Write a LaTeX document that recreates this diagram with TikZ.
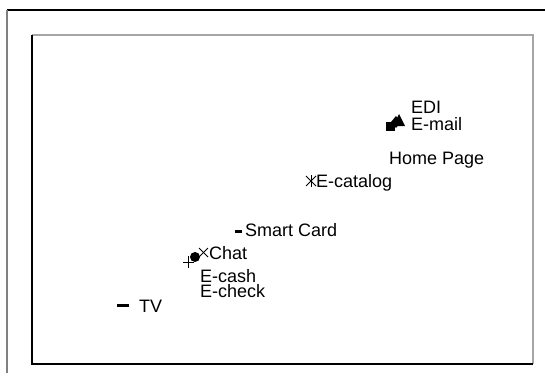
\documentclass[tikz,border=0pt]{standalone}
\usepackage{fontspec}
\setmainfont{Liberation Sans}
\usetikzlibrary{positioning}

\tikzset{
    lbl/.style={anchor=base west, inner sep=0pt, font=\fontsize{18}{18}\selectfont},
    dashmark/.style={line width=3pt},
    thinmark/.style={line width=1pt}
}

\begin{document}
\begin{tikzpicture}[x=1pt,y=-1pt]
\useasboundingbox (0,0) rectangle (545,380);

% Outer frame
\draw[line width=1.3pt] (7,10) -- (545,10);
\draw[gray, line width=2pt] (7,10) -- (7,373);

% Plot box
\draw[gray!70, line width=1.2pt] (32,35) -- (533,35) -- (533,364);
\draw[line width=1.5pt] (32,35) -- (32,364) -- (533,364);

% TV
\draw[dashmark] (117,305) -- (129,305);
\node[lbl] (tv) at (139,312) {TV};

% E-cash, E-check, Chat
\draw[thinmark] (183,262) -- (194,262);
\draw[thinmark] (188,256) -- (188,268);
\fill (195,257) circle (5);
\draw[thinmark] (199,248) -- (208,257);
\draw[thinmark] (199,257) -- (208,248);
\node[lbl] (chat) at (209,259) {Chat};
\node[lbl] (ecash) at (200,282) {E-cash};
\node[lbl] (echeck) at (200,297) {E-check};

% Smart Card
\draw[dashmark] (235,231) -- (242,231);
\node[lbl] (smart) at (245,236) {Smart Card};

% E-catalog
\draw[thinmark] (311,175) -- (311,187);
\draw[thinmark] (306,176) -- (316,186);
\draw[thinmark] (306,186) -- (316,176);
\node[lbl] (ecat) at (316,187) {E-catalog};

% EDI, E-mail, Home Page
\fill (386,122) rectangle (395,131);
\fill (396,116) -- (401,122) -- (396,128) -- (391,122) -- cycle;
\fill (393,126) -- (399,114) -- (405,126) -- cycle;
\node[lbl] (edi) at (411,113) {EDI};
\node[lbl] (email) at (411,130) {E-mail};
\node[lbl] (home) at (389,164) {Home Page};

\end{tikzpicture}
\end{document}
